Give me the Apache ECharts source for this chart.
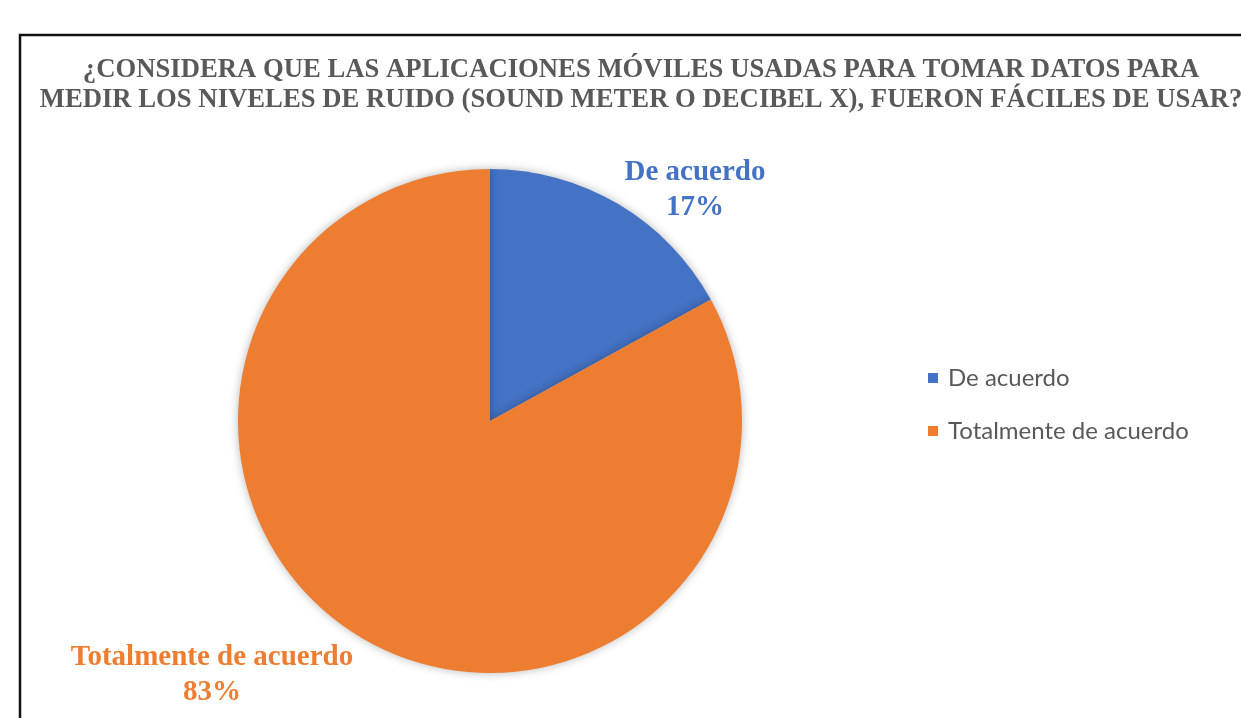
<!DOCTYPE html>
<html>
<head>
  <meta charset="utf-8">
  <title>Aplicaciones móviles - pie</title>
  <script src="https://cdn.jsdelivr.net/npm/echarts@6/dist/echarts.min.js"></script>
  <style>
    html, body { margin: 0; padding: 0; background: #fff; }
    #chart-container { width: 1241px; height: 718px; }
  </style>
</head>
<body>
<div id="chart-container"></div>
<script>
  // datos
  var titleText = '¿CONSIDERA QUE LAS APLICACIONES MÓVILES USADAS PARA TOMAR DATOS PARA\nMEDIR LOS NIVELES DE RUIDO (SOUND METER O DECIBEL X), FUERON FÁCILES DE USAR?';
  var categories = ['De acuerdo', 'Totalmente de acuerdo'];
  var values = [17, 83];
  var colors = ['#4472C4', '#ED7D31'];

  // posición de las etiquetas (como en el original)
  var labelPos = [[695, 190], [212, 675]];

  var myChart = echarts.init(document.getElementById('chart-container'));

  var serif = '"Liberation Serif", "Times New Roman", serif';

  myChart.setOption({
    backgroundColor: '#fff',
    animation: false,
    title: {
      text: titleText,
      left: 641,
      textAlign: 'center',
      top: 55,
      padding: 0,
      textStyle: {
        fontFamily: serif,
        fontWeight: 'bold',
        fontSize: 26.7,
        lineHeight: 30,
        color: '#595959'
      }
    },
    legend: {
      orient: 'vertical',
      left: 928,
      top: 366,
      padding: 0,
      itemGap: 29,
      itemWidth: 10,
      itemHeight: 10,
      icon: 'rect',
      data: categories,
      textStyle: {
        fontFamily: 'Lato, "Noto Sans", sans-serif',
        fontSize: 24,
        color: '#595959',
        padding: [0, 0, 0, 5]
      }
    },
    graphic: [{
      type: 'rect',
      silent: true,
      shape: { x: 20, y: 35, width: 1400, height: 900 },
      style: { fill: 'none', stroke: '#111', lineWidth: 2.5 }
    }],
    series: [{
      type: 'pie',
      center: [490, 421],
      radius: 252,
      startAngle: 90,
      clockwise: true,
      itemStyle: {
        shadowBlur: 10,
        shadowColor: 'rgba(0,0,0,0.28)'
      },
      label: {
        show: true,
        position: 'outside',
        formatter: '{b}\n{d}%',
        fontFamily: serif,
        fontWeight: 'bold',
        fontSize: 29,
        lineHeight: 35,
        color: 'inherit'
      },
      labelLine: { show: false },
      labelLayout: function (params) {
        var p = labelPos[params.dataIndex];
        return { x: p[0], y: p[1], align: 'center', verticalAlign: 'middle' };
      },
      data: categories.map(function (name, i) {
        return {
          name: name,
          value: values[i],
          itemStyle: { color: colors[i] },
          label: { color: colors[i] }
        };
      })
    }]
  });
</script>
</body>
</html>
